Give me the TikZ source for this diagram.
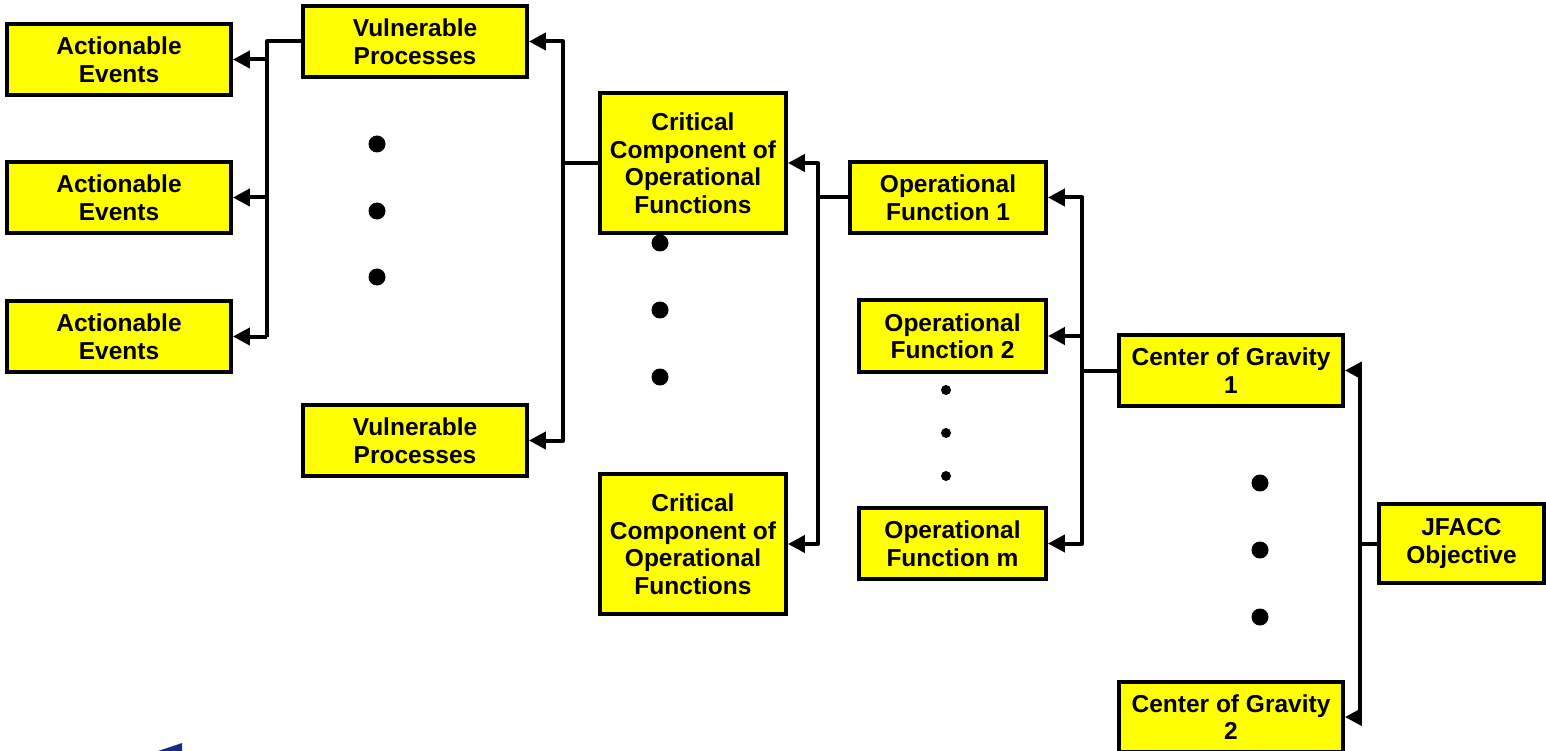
\documentclass[tikz,border=0pt]{standalone}
\usepackage{fontspec}
\setmainfont{Liberation Sans}
\usetikzlibrary{arrows.meta}
\definecolor{boxfill}{RGB}{255,255,0}
\definecolor{logoblue}{RGB}{20,45,130}
\tikzset{
  box/.style={draw=black, line width=3.8pt, fill=boxfill, inner sep=0pt,
    align=center, font=\bfseries\fontsize{24.5}{27.5}\selectfont},
  link/.style={line width=4pt, line join=round},
  arr/.style={line width=4pt, line join=round, -{Triangle[length=17pt,width=17pt]}},
  bigdot/.style={fill=black},
}
\newcommand{\boxat}[6]{% name, x1, y1, x2, y2, text
  \node[box, minimum width={#4-#2}, minimum height={#5-#3}] (#1) at ({(#2+#4)/2},{(#3+#5)/2}) {#6};}
\begin{document}
\begin{tikzpicture}[x=1pt,y=-1pt]
\useasboundingbox (0,0) rectangle (1546,751);

% boxes, column by column
\boxat{AEa}{7}{24}{231}{95}{Actionable\\Events}
\boxat{AEb}{7}{162}{231}{233}{Actionable\\Events}
\boxat{AEc}{7}{301}{231}{372}{Actionable\\Events}
\boxat{VPa}{303}{6}{527}{77}{Vulnerable\\Processes}
\boxat{VPb}{303}{405}{527}{476}{Vulnerable\\Processes}
\boxat{CCa}{600}{93}{786}{233}{Critical\\Component of\\Operational\\Functions}
\boxat{CCb}{600}{474}{786}{614}{Critical\\Component of\\Operational\\Functions}
\boxat{OFa}{850}{162}{1046}{233}{Operational\\Function 1}
\boxat{OFb}{859}{300}{1046}{372}{Operational\\Function 2}
\boxat{OFm}{859}{508}{1046}{579}{Operational\\Function m}
\boxat{CGa}{1119}{335}{1343}{406}{Center of Gravity\\1}
\boxat{CGb}{1119}{682}{1343}{752}{Center of Gravity\\2}
\boxat{JF}{1379}{504}{1544}{583}{JFACC\\Objective}

% bus lines
\coordinate (busA) at (267,0);
\coordinate (busB) at (563,0);
\coordinate (busC) at (818,0);
\coordinate (busD) at (1082,0);
\coordinate (busE) at (1360,0);

% Vulnerable Processes -> Actionable Events
\draw[link] (VPa.west) -| (busA |- AEc.east);
\draw[arr] (busA |- AEa.east) -- (AEa.east);
\draw[arr] (busA |- AEb.east) -- (AEb.east);
\draw[arr] (busA |- AEc.east) -- (AEc.east);

% Critical Component -> Vulnerable Processes
\draw[link] (CCa.west) -- (busB |- CCa.west);
\draw[arr] (busB |- CCa.west) |- (VPa.east);
\draw[arr] (busB |- CCa.west) |- (VPb.east);

% Operational Function 1 -> Critical Components
\draw[link] (OFa.west) -- (busC |- OFa.west);
\draw[arr] (busC |- OFa.west) |- (CCa.east);
\draw[arr] (busC |- OFa.west) |- (CCb.east);

% Center of Gravity 1 -> Operational Functions
\draw[link] (CGa.west) -- (busD |- CGa.west);
\draw[arr] (busD |- CGa.west) |- (OFa.east);
\draw[arr] (busD |- CGa.west) |- (OFm.east);
\draw[arr] (busD |- OFb.east) -- (OFb.east);

% JFACC Objective -> Centers of Gravity
\draw[link] (JF.west) -- (busE |- JF.west);
\draw[arr] (busE |- JF.west) |- (CGa.east);
\draw[arr] (busE |- JF.west) |- (CGb.east);

% ellipsis dots
\foreach \y in {144,211,277} \fill[bigdot] (377,\y) circle (8.5);
\foreach \y in {243,310,377} \fill[bigdot] (660,\y) circle (8.5);
\foreach \y in {390,433,476} \fill[bigdot] (946,\y) circle (5);
\foreach \y in {483,550,617} \fill[bigdot] (1260,\y) circle (8.5);

% corner of a logo at the bottom edge
\fill[logoblue] (158,751) -- (182,743) -- (182,751) -- cycle;
\end{tikzpicture}
\end{document}
